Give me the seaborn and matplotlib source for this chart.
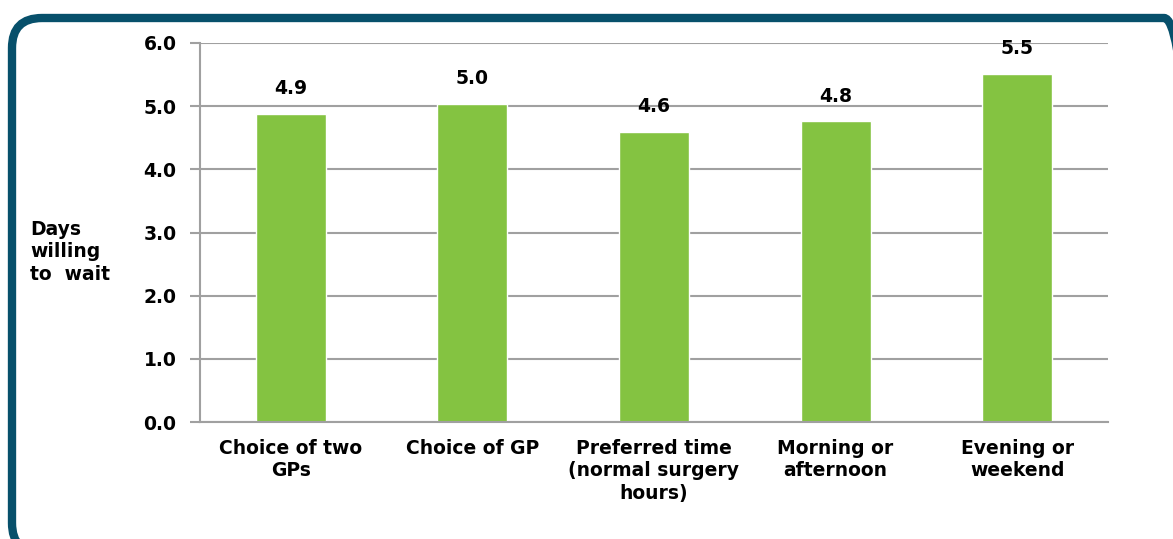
import matplotlib
matplotlib.use("Agg")
import matplotlib.pyplot as plt
from matplotlib.patches import FancyBboxPatch
import seaborn as sns
import pandas as pd

# data
categories = ["Choice of two\nGPs", "Choice of GP", "Preferred time\n(normal surgery\nhours)",
              "Morning or\nafternoon", "Evening or\nweekend"]
days = [4.88, 5.04, 4.59, 4.76, 5.51]
labels = ["4.9", "5.0", "4.6", "4.8", "5.5"]
yticks = [0.0, 1.0, 2.0, 3.0, 4.0, 5.0, 6.0]

df = pd.DataFrame({"category": categories, "days": days})

sns.set_style("white")
plt.rcParams["font.family"] = ["DejaVu Sans"]
plt.rcParams["text.color"] = "black"
plt.rcParams["xtick.labelcolor"] = "black"
plt.rcParams["ytick.labelcolor"] = "black"
FS = 13.5

fig = plt.figure(figsize=(11.73, 5.39), dpi=100)
ax = fig.add_axes([200 / 1173, 1 - 422 / 539, 908 / 1173, 379 / 539])

sns.barplot(data=df, x="category", y="days", color="#84C341", saturation=1,
            width=0.385, ax=ax)

ax.set_ylim(0, 6)
ax.set_xlim(-0.5, 4.5)
ax.set_yticks(yticks)
ax.set_yticklabels([f"{v:.1f}" for v in yticks], fontsize=FS, fontweight="bold")
ax.yaxis.grid(True, color="#a0a0a0", linewidth=1.5)
ax.set_axisbelow(True)

ax.set_xticks([i - 0.5 for i in range(6)], minor=True)
ax.set_xticks(range(5))
ax.set_xticklabels(categories, fontsize=FS, fontweight="bold", linespacing=1.25)
ax.tick_params(axis="x", which="major", length=0, pad=12)
ax.tick_params(axis="x", which="minor", length=7, width=1.5, color="#a0a0a0", direction="out")
ax.tick_params(axis="y", length=7, width=1.5, color="#a0a0a0", direction="out", left=True, pad=10)

for s in ["top", "right"]:
    ax.spines[s].set_visible(False)
for s in ["left", "bottom"]:
    ax.spines[s].set_color("#a0a0a0")
    ax.spines[s].set_linewidth(1.5)

for i, (v, lab) in enumerate(zip(days, labels)):
    ax.text(i, v + 0.40, lab, ha="center", va="center", fontsize=FS, fontweight="bold")

ax.set_xlabel("")
ax.set_ylabel("")
fig.text(30 / 1173, 1 - 252 / 539, "Days\nwilling\nto  wait", ha="left", va="center",
         fontsize=FS, fontweight="bold", linespacing=1.25)

# rounded frame, drawn in pixel coordinates
frame = FancyBboxPatch((12, -14), 1182, 539 - 18 + 14,
                       boxstyle="round,pad=0,rounding_size=30", transform=None,
                       fill=False, edgecolor="#07506b", linewidth=6, zorder=0)
fig.patches.append(frame)

fig.savefig("out.png", dpi=100)
